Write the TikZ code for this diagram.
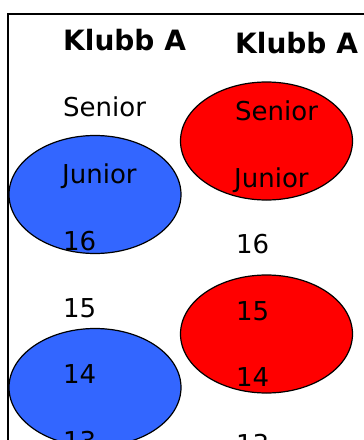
\documentclass[tikz,border=0pt]{standalone}
\usepackage{fontspec}
\setmainfont{DejaVu Sans}
\usetikzlibrary{shapes.geometric}
\definecolor{blueA}{HTML}{3366FF}
\definecolor{redA}{HTML}{FF0000}
\begin{document}
\begin{tikzpicture}[x=1pt,y=-1pt,
  lbl/.style={anchor=base west,inner sep=0pt,font=\fontsize{26}{30}\selectfont},
  head/.style={anchor=base west,inner sep=0pt,font=\fontsize{28}{32}\selectfont\bfseries},
  oval/.style={ellipse,draw=black,line width=1.2pt,minimum width=172pt,minimum height=118pt,inner sep=0pt}]
\useasboundingbox (0,0) rectangle (364,440);
\clip (0,0) rectangle (364,440);
\draw[line width=2pt] (8,470) -- (8,14) -- (400,14);
% ellipses
\node[oval,fill=redA] (r1) at (266.5,141) {};
\node[oval,fill=blueA] (b1) at (95,194.5) {};
\node[oval,fill=redA] (r2) at (266.5,334) {};
\node[oval,fill=blueA] (b2) at (95,387.5) {};
% headers
\node[head] (h1) at (63,50) {Klubb A};
\node[head] (h2) at (235,53) {Klubb A};
% left column
\node[lbl] (l1) at (63,116) {Senior};
\node[lbl] (l2) at (62,183) {Junior};
\node[lbl] (l3) at (63,250) {16};
\node[lbl] (l4) at (63,317) {15};
\node[lbl] (l5) at (63,383) {14};
\node[lbl] (l6) at (63,450) {13};
% right column
\node[lbl] (m1) at (235,120) {Senior};
\node[lbl] (m2) at (234,187) {Junior};
\node[lbl] (m3) at (236,253) {16};
\node[lbl] (m4) at (236,320) {15};
\node[lbl] (m5) at (236,386) {14};
\node[lbl] (m6) at (236,453) {13};
\end{tikzpicture}
\end{document}
